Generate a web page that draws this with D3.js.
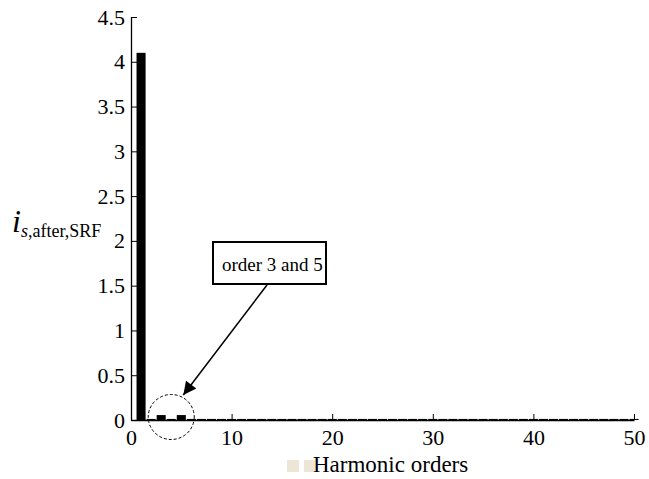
<!DOCTYPE html>
<html>
<head>
<meta charset="utf-8">
<script src="https://cdn.jsdelivr.net/npm/d3@7"></script>
<style>
  html, body { margin: 0; padding: 0; background: #fff; }
  svg text { font-family: "Liberation Serif", "DejaVu Serif", serif; }
</style>
</head>
<body>
<svg id="chart" width="649" height="479"></svg>
<script>
// Harmonic spectrum of the source current after SRF compensation
const orders = d3.range(1, 51);
const amplitudes = [
  4.10, 0.012, 0.055, 0.012, 0.055, 0.012, 0.012, 0.012, 0.012, 0.012,
  0.012, 0.012, 0.012, 0.012, 0.012, 0.012, 0.012, 0.012, 0.012, 0.012,
  0.012, 0.012, 0.012, 0.012, 0.012, 0.012, 0.012, 0.012, 0.012, 0.012,
  0.012, 0.012, 0.012, 0.012, 0.012, 0.012, 0.012, 0.012, 0.012, 0.012,
  0.012, 0.012, 0.012, 0.012, 0.012, 0.012, 0.012, 0.012, 0.012, 0.012
];
const xTicks = [0, 10, 20, 30, 40, 50];
const yTicks = [0, 0.5, 1, 1.5, 2, 2.5, 3, 3.5, 4, 4.5];
const yTickLabels = ["0", "0.5", "1", "1.5", "2", "2.5", "3", "3.5", "4", "4.5"];
const xTitle = "Harmonic orders";
const noteText = "order 3 and 5";

const serif = '"Liberation Serif", "DejaVu Serif", serif';
const svg = d3.select("#chart");
const plot = { left: 131, right: 634, top: 17, bottom: 420 };

const x = d3.scaleLinear().domain([0, 50]).range([plot.left, plot.right]);
const y = d3.scaleLinear().domain([0, 4.5]).range([plot.bottom, plot.top]);

const barW = x(0.9) - x(0);

// bars
svg.append("g")
  .selectAll("rect")
  .data(orders.map((o, i) => ({ o, v: amplitudes[i] })))
  .join("rect")
  .attr("x", d => x(d.o) - barW / 2)
  .attr("y", d => y(d.v))
  .attr("width", barW)
  .attr("height", d => y(0) - y(d.v))
  .attr("fill", "#000");

// x axis with inward ticks
const xAxis = svg.append("g")
  .attr("transform", `translate(0,${plot.bottom})`)
  .call(d3.axisBottom(x).tickValues(xTicks).tickSizeInner(-6).tickSizeOuter(0).tickPadding(9).tickFormat(d3.format("d")));
xAxis.select(".domain").attr("stroke", "#000").attr("stroke-width", 1.3);
xAxis.selectAll(".tick line").attr("stroke", "#000");
xAxis.selectAll(".tick text")
  .style("font-family", serif).style("font-size", "22px").attr("fill", "#000");

// y axis with inward ticks
const yAxis = svg.append("g")
  .attr("transform", `translate(${plot.left},0)`)
  .call(d3.axisLeft(y).tickValues(yTicks).tickSizeInner(-6).tickSizeOuter(0).tickPadding(6)
    .tickFormat((d, i) => yTickLabels[i]));
yAxis.select(".domain").attr("stroke", "#000").attr("stroke-width", 1.3);
yAxis.selectAll(".tick line").attr("stroke", "#000");
yAxis.selectAll(".tick text")
  .style("font-family", serif).style("font-size", "22px").attr("fill", "#000");

// y title: i_{s,after,SRF}
const yt = svg.append("text")
  .attr("x", 12).attr("y", 232)
  .style("font-family", serif)
  .attr("fill", "#000");
yt.append("tspan").style("font-style", "italic").style("font-size", "32px").text("i");
yt.append("tspan").style("font-style", "italic").style("font-size", "18px").attr("dy", 5).text("s");
yt.append("tspan").style("font-size", "18px").text(",after,SRF");

// x title with small swatches before it
svg.append("rect").attr("x", 287).attr("y", 460).attr("width", 12).attr("height", 12).attr("fill", "#ede5d6");
svg.append("rect").attr("x", 304).attr("y", 460).attr("width", 11).attr("height", 12).attr("fill", "#ede5d6");
svg.append("text")
  .attr("x", 313).attr("y", 472)
  .style("font-family", serif).style("font-size", "23px").attr("fill", "#000")
  .text(xTitle);

// annotation: dashed circle around orders 3 and 5
svg.append("ellipse")
  .attr("cx", x(4)).attr("cy", y(0) - 3)
  .attr("rx", 23).attr("ry", 22.5)
  .attr("fill", "none").attr("stroke", "#000")
  .attr("stroke-width", 1).attr("stroke-dasharray", "3,2");

// annotation box
svg.append("rect")
  .attr("x", 213).attr("y", 242).attr("width", 113).attr("height", 42)
  .attr("fill", "#fff").attr("stroke", "#000").attr("stroke-width", 2);
svg.append("text")
  .attr("x", 222).attr("y", 271)
  .style("font-family", serif).style("font-size", "19px").attr("fill", "#000")
  .text(noteText);

// arrow from box to circle
svg.append("defs").append("marker")
  .attr("id", "head").attr("viewBox", "0 0 10 10")
  .attr("refX", 10).attr("refY", 5)
  .attr("markerWidth", 16).attr("markerHeight", 13)
  .attr("markerUnits", "userSpaceOnUse")
  .attr("orient", "auto")
  .append("path").attr("d", "M0,0 L10,5 L0,10 Z").attr("fill", "#000");
svg.append("line")
  .attr("x1", 267).attr("y1", 285)
  .attr("x2", x(5.2)).attr("y2", y(0.28))
  .attr("stroke", "#000").attr("stroke-width", 1.5)
  .attr("marker-end", "url(#head)");
</script>
</body>
</html>
